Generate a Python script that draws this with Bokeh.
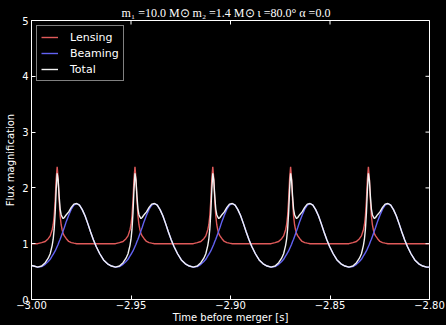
from bokeh.plotting import figure
from bokeh.models import ColumnDataSource, Range1d, FixedTicker
from bokeh.embed import file_html
from bokeh.resources import INLINE
import math

# ---------------- data ----------------
# time before merger [s]
time = [
    -3.0000, -2.9989, -2.9969, -2.9949, -2.9931, -2.9916, -2.9906, -2.9896, -2.9891, -2.9886, -2.9881,
    -2.9876, -2.9871, -2.9866, -2.9861, -2.9856, -2.9851, -2.9846, -2.9841, -2.9835, -2.9825, -2.9813,
    -2.9800, -2.9787, -2.9773, -2.9759, -2.9745, -2.9731, -2.9717, -2.9703, -2.9689,
    -2.9675, -2.9657, -2.9638, -2.9618, -2.9598, -2.9578, -2.9558, -2.9540, -2.9525, -2.9515, -2.9505,
    -2.9500, -2.9495, -2.9490, -2.9485, -2.9480, -2.9475, -2.9470, -2.9465, -2.9460, -2.9455, -2.9450,
    -2.9444, -2.9434, -2.9422, -2.9409, -2.9396, -2.9382, -2.9368, -2.9354, -2.9340, -2.9326, -2.9312, -2.9298,
    -2.9284, -2.9266, -2.9247, -2.9227, -2.9207, -2.9187, -2.9167, -2.9149, -2.9134, -2.9124, -2.9114,
    -2.9109, -2.9104, -2.9099, -2.9094, -2.9089, -2.9084, -2.9079, -2.9074, -2.9069, -2.9064, -2.9059,
    -2.9053, -2.9043, -2.9031, -2.9018, -2.9005, -2.8991, -2.8977, -2.8963, -2.8949, -2.8935, -2.8921, -2.8907,
    -2.8893, -2.8875, -2.8856, -2.8836, -2.8816, -2.8796, -2.8776, -2.8758, -2.8743, -2.8733, -2.8723,
    -2.8718, -2.8713, -2.8708, -2.8703, -2.8698, -2.8693, -2.8688, -2.8683, -2.8678, -2.8673, -2.8668,
    -2.8662, -2.8652, -2.8640, -2.8627, -2.8614, -2.8600, -2.8586, -2.8572, -2.8558, -2.8544, -2.8530, -2.8516,
    -2.8502, -2.8484, -2.8465, -2.8445, -2.8425, -2.8405, -2.8385, -2.8367, -2.8352, -2.8342, -2.8332,
    -2.8327, -2.8322, -2.8317, -2.8312, -2.8307, -2.8302, -2.8297, -2.8292, -2.8287, -2.8282, -2.8277,
    -2.8271, -2.8261, -2.8249, -2.8236, -2.8223, -2.8209, -2.8195, -2.8181, -2.8167, -2.8153, -2.8139, -2.8125,
    -2.8111, -2.8093, -2.8074, -2.8054, -2.8034, -2.8014, -2.8000,
]

# lensing magnification
lensing = [
    1.00, 1.00, 1.00, 1.02, 1.04, 1.09, 1.14, 1.25, 1.34, 1.50, 1.78,
    2.16, 2.38, 2.16, 1.78, 1.50, 1.34, 1.25, 1.18, 1.14, 1.09, 1.04,
    1.02, 1.01, 1.00, 1.00, 1.00, 1.00, 1.00, 1.00, 1.00,
    1.00, 1.00, 1.00, 1.00, 1.00, 1.00, 1.02, 1.04, 1.09, 1.14, 1.25,
    1.34, 1.50, 1.78, 2.16, 2.38, 2.16, 1.78, 1.50, 1.34, 1.25, 1.18,
    1.14, 1.09, 1.04, 1.02, 1.01, 1.00, 1.00, 1.00, 1.00, 1.00, 1.00, 1.00,
    1.00, 1.00, 1.00, 1.00, 1.00, 1.00, 1.02, 1.04, 1.09, 1.14, 1.25,
    1.34, 1.50, 1.78, 2.16, 2.38, 2.16, 1.78, 1.50, 1.34, 1.25, 1.18,
    1.14, 1.09, 1.04, 1.02, 1.01, 1.00, 1.00, 1.00, 1.00, 1.00, 1.00, 1.00,
    1.00, 1.00, 1.00, 1.00, 1.00, 1.00, 1.02, 1.04, 1.09, 1.14, 1.25,
    1.34, 1.50, 1.78, 2.16, 2.38, 2.16, 1.78, 1.50, 1.34, 1.25, 1.18,
    1.14, 1.09, 1.04, 1.02, 1.01, 1.00, 1.00, 1.00, 1.00, 1.00, 1.00, 1.00,
    1.00, 1.00, 1.00, 1.00, 1.00, 1.00, 1.02, 1.04, 1.09, 1.14, 1.25,
    1.34, 1.50, 1.78, 2.16, 2.38, 2.16, 1.78, 1.50, 1.34, 1.25, 1.18,
    1.14, 1.09, 1.04, 1.02, 1.01, 1.00, 1.00, 1.00, 1.00, 1.00, 1.00, 1.00,
    1.00, 1.00, 1.00, 1.00, 1.00, 1.00, 1.00,
]

# relativistic beaming
beaming = [
    0.61, 0.60, 0.58, 0.59, 0.63, 0.68, 0.72, 0.78, 0.81, 0.84, 0.87,
    0.91, 0.95, 0.99, 1.04, 1.08, 1.13, 1.18, 1.23, 1.29, 1.40, 1.51,
    1.62, 1.69, 1.72, 1.69, 1.61, 1.50, 1.36, 1.21, 1.07,
    0.95, 0.82, 0.71, 0.64, 0.60, 0.58, 0.59, 0.63, 0.68, 0.72, 0.78,
    0.81, 0.84, 0.87, 0.91, 0.95, 0.99, 1.04, 1.08, 1.13, 1.18, 1.23,
    1.29, 1.40, 1.51, 1.62, 1.69, 1.72, 1.69, 1.61, 1.50, 1.36, 1.21, 1.07,
    0.95, 0.82, 0.71, 0.64, 0.60, 0.58, 0.59, 0.63, 0.68, 0.72, 0.78,
    0.81, 0.84, 0.87, 0.91, 0.95, 0.99, 1.04, 1.08, 1.13, 1.18, 1.23,
    1.29, 1.40, 1.51, 1.62, 1.69, 1.72, 1.69, 1.61, 1.50, 1.36, 1.21, 1.07,
    0.95, 0.82, 0.71, 0.64, 0.60, 0.58, 0.59, 0.63, 0.68, 0.72, 0.78,
    0.81, 0.84, 0.87, 0.91, 0.95, 0.99, 1.04, 1.08, 1.13, 1.18, 1.23,
    1.29, 1.40, 1.51, 1.62, 1.69, 1.72, 1.69, 1.61, 1.50, 1.36, 1.21, 1.07,
    0.95, 0.82, 0.71, 0.64, 0.60, 0.58, 0.59, 0.63, 0.68, 0.72, 0.78,
    0.81, 0.84, 0.87, 0.91, 0.95, 0.99, 1.04, 1.08, 1.13, 1.18, 1.23,
    1.29, 1.40, 1.51, 1.62, 1.69, 1.72, 1.69, 1.61, 1.50, 1.36, 1.21, 1.07,
    0.95, 0.82, 0.71, 0.64, 0.60, 0.58, 0.58,
]

# total = lensing x beaming, as read
total = [
    0.61, 0.60, 0.58, 0.60, 0.66, 0.74, 0.82, 0.97, 1.08, 1.26, 1.55,
    1.97, 2.26, 2.14, 1.85, 1.62, 1.52, 1.48, 1.45, 1.47, 1.52, 1.57,
    1.65, 1.71, 1.72, 1.69, 1.61, 1.50, 1.36, 1.21, 1.07,
    0.95, 0.82, 0.71, 0.64, 0.60, 0.58, 0.60, 0.66, 0.74, 0.82, 0.97,
    1.08, 1.26, 1.55, 1.97, 2.26, 2.14, 1.85, 1.62, 1.52, 1.48, 1.45,
    1.47, 1.52, 1.57, 1.65, 1.71, 1.72, 1.69, 1.61, 1.50, 1.36, 1.21, 1.07,
    0.95, 0.82, 0.71, 0.64, 0.60, 0.58, 0.60, 0.66, 0.74, 0.82, 0.97,
    1.08, 1.26, 1.55, 1.97, 2.26, 2.14, 1.85, 1.62, 1.52, 1.48, 1.45,
    1.47, 1.52, 1.57, 1.65, 1.71, 1.72, 1.69, 1.61, 1.50, 1.36, 1.21, 1.07,
    0.95, 0.82, 0.71, 0.64, 0.60, 0.58, 0.60, 0.66, 0.74, 0.82, 0.97,
    1.08, 1.26, 1.55, 1.97, 2.26, 2.14, 1.85, 1.62, 1.52, 1.48, 1.45,
    1.47, 1.52, 1.57, 1.65, 1.71, 1.72, 1.69, 1.61, 1.50, 1.36, 1.21, 1.07,
    0.95, 0.82, 0.71, 0.64, 0.60, 0.58, 0.60, 0.66, 0.74, 0.82, 0.97,
    1.08, 1.26, 1.55, 1.97, 2.26, 2.14, 1.85, 1.62, 1.52, 1.48, 1.45,
    1.47, 1.52, 1.57, 1.65, 1.71, 1.72, 1.69, 1.61, 1.50, 1.36, 1.21, 1.07,
    0.95, 0.82, 0.71, 0.64, 0.60, 0.58, 0.58,
]

series_names = ["Lensing", "Beaming", "Total"]
series_colors = ["#e05a5a", "#6262f2", "#f2f2f2"]

x_ticks = [-3.00, -2.95, -2.90, -2.85, -2.80]
x_tick_labels = ["\u22123.00", "\u22122.95", "\u22122.90", "\u22122.85", "\u22122.80"]
y_ticks = [0, 1, 2, 3, 4, 5]
y_tick_labels = ["0", "1", "2", "3", "4", "5"]

title_text = "m\u2081 =10.0 M\u2299  m\u2082 =1.4 M\u2299  \u03b9 =80.0\u00b0  \u03b1 =0.0"
x_label = "Time before merger [s]"
y_label = "Flux magnification"

assert len(time) == len(lensing) == len(beaming) == len(total)

# ---------------- figure ----------------
src = ColumnDataSource(dict(time=time, lensing=lensing, beaming=beaming, total=total))

x0, x1 = x_ticks[0], x_ticks[-1]
y0, y1 = y_ticks[0], y_ticks[-1]

p = figure(width=446, height=325, output_backend="svg", toolbar_location=None,
           x_range=Range1d(x0, x1), y_range=Range1d(y0, y1),
           background_fill_color="black", border_fill_color="black",
           min_border_left=31, min_border_right=17, min_border_top=20, min_border_bottom=25,
           title=title_text)
p.title.align = "center"
p.title.text_color = "white"
p.title.text_font = "Liberation Serif"
p.title.text_font_size = "12px"
p.title.text_font_style = "normal"
p.title.standoff = 2
p.title.offset = 9

p.outline_line_color = "white"
p.outline_line_width = 1
p.xgrid.grid_line_color = None
p.ygrid.grid_line_color = None

for col, name, color in zip(["lensing", "beaming", "total"], series_names, series_colors):
    p.line("time", col, source=src, line_color=color, line_width=1.4, legend_label=name)

# mirrored inward tick marks on the top and right frame edges (matplotlib style)
p.scatter(x=x_ticks, y=[y1] * len(x_ticks), marker="dash", size=8, angle=math.pi / 2,
          line_color="white", line_width=1)
p.scatter(x=[x1] * len(y_ticks), y=y_ticks, marker="dash", size=8,
          line_color="white", line_width=1)


def style_axis(ax, ticks, labels):
    ax.ticker = FixedTicker(ticks=ticks)
    ax.major_label_overrides = {t: s for t, s in zip(ticks, labels)}
    ax.axis_line_color = "white"
    ax.major_tick_line_color = "white"
    ax.major_tick_in = 4
    ax.major_tick_out = 0
    ax.minor_tick_line_color = None
    ax.major_label_text_color = "white"
    ax.major_label_text_font = "DejaVu Sans"
    ax.major_label_text_font_size = "10px"
    ax.axis_label_text_color = "white"
    ax.axis_label_text_font = "DejaVu Sans"
    ax.axis_label_text_font_size = "10px"
    ax.axis_label_text_font_style = "normal"


style_axis(p.below[0], x_ticks, x_tick_labels)
style_axis(p.left[0], y_ticks, y_tick_labels)
p.below[0].axis_label = x_label
p.below[0].major_label_standoff = 1
p.below[0].axis_label_standoff = 0
p.left[0].axis_label = y_label
p.left[0].major_label_standoff = 3
p.left[0].axis_label_standoff = 3

leg = p.legend[0]
leg.location = "top_left"
leg.margin = 5
leg.padding = 4
leg.spacing = 2
leg.glyph_width = 17
leg.glyph_height = 14
leg.label_height = 14
leg.label_standoff = 12
leg.label_text_font = "DejaVu Sans"
leg.label_text_font_size = "11px"
leg.label_text_color = "white"
leg.background_fill_color = "black"
leg.background_fill_alpha = 1.0
leg.border_line_color = "white"
leg.border_line_width = 1

html = file_html(p, INLINE, title="Flux magnification",
                 template="{% block postamble %}<style>html, body { background: #000; }</style>{% endblock %}")
open("out.html", "w").write(html)
